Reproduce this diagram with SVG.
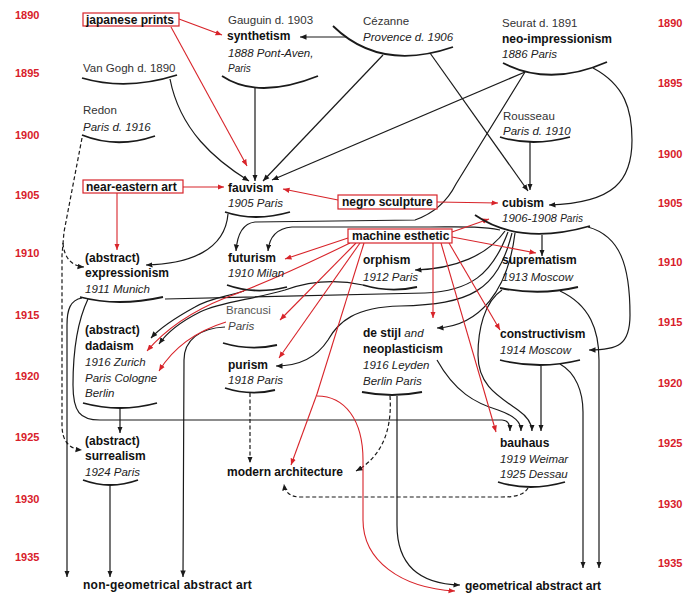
<svg xmlns="http://www.w3.org/2000/svg" width="688" height="596" viewBox="0 0 688 596">
<defs>
<marker id="ab" markerWidth="8" markerHeight="7" refX="6.5" refY="3" orient="auto" markerUnits="userSpaceOnUse"><path d="M0,0.3 L6.5,3 L0,5.7 z" fill="#1a1a1a"/></marker>
<marker id="ar" markerWidth="8" markerHeight="7" refX="6.5" refY="3" orient="auto" markerUnits="userSpaceOnUse"><path d="M0,0.3 L6.5,3 L0,5.7 z" fill="#d8242a"/></marker>
</defs>
<style>
text{font-family:"Liberation Sans",Arial,Helvetica,sans-serif}
.y{font-size:11px;font-weight:bold;fill:#d8202a}
.b{font-size:12px;font-weight:bold;fill:#111}
.i{font-size:11.5px;font-style:italic;fill:#222}
.r{font-size:11.5px;fill:#333}
.k{fill:none;stroke:#1a1a1a;stroke-width:1.2;marker-end:url(#ab)}
.a{fill:none;stroke:#1a1a1a;stroke-width:1.8}
.d{fill:none;stroke:#1a1a1a;stroke-width:1.2;stroke-dasharray:4 2.5;marker-end:url(#ab)}
.rl{fill:none;stroke:#d8242a;stroke-width:1.1;marker-end:url(#ar)}
.rn{fill:none;stroke:#d8242a;stroke-width:1.1}
.bx{fill:#fff;stroke:#d8242a;stroke-width:1.2}
</style>
<rect width="688" height="596" fill="#fff"/>
<g id="years">
<text class="y" x="15" y="19">1890</text><text class="y" x="15" y="77">1895</text><text class="y" x="15" y="139">1900</text><text class="y" x="15" y="199">1905</text><text class="y" x="15" y="257">1910</text><text class="y" x="15" y="319">1915</text><text class="y" x="15" y="380">1920</text><text class="y" x="15" y="441">1925</text><text class="y" x="15" y="503">1930</text><text class="y" x="15" y="561">1935</text>
<text class="y" x="658" y="27">1890</text><text class="y" x="658" y="87">1895</text><text class="y" x="658" y="158">1900</text><text class="y" x="658" y="207">1905</text><text class="y" x="658" y="266">1910</text><text class="y" x="658" y="326">1915</text><text class="y" x="658" y="387">1920</text><text class="y" x="658" y="447">1925</text><text class="y" x="658" y="508">1930</text><text class="y" x="658" y="567">1935</text>
</g>
<g id="connectors">
<path class="k" d="M347,37 L300,37"/>
<path class="k" d="M255,88 L255,181"/>
<path class="k" d="M170,79 C180,130 215,160 249,181"/>
<path class="k" d="M383,55 L263,181"/>
<path class="k" d="M525,72 L272,180"/>
<path class="k" d="M430,53 L528,191"/>
<path class="k" d="M593,68 C625,85 632,110 632,140 C632,180 615,203 549,205"/>
<path class="k" d="M530,142 L530,190"/>
<path class="k" d="M525,72 L456,184 Q443,210 415,220 L255,222 Q238,224 236,251"/>
<path class="k" d="M500,230 C480,226 460,227 430,227 L292,227 Q270,229 268,251"/>
<path class="k" d="M228,214 C225,250 190,264 146,265"/>
<path class="k" d="M505,231 C488,255 455,269 415,270"/>
<path class="a" style="stroke-width:1.2" d="M508,232 C492,275 470,291 425,293 L165,299"/>
<path class="k" d="M363,285 C335,279 310,281 285,290 C250,300 220,302 200,312 C180,322 166,334 159,344"/>
<path class="k" d="M244,291 C225,297 210,298 195,307 C175,318 160,328 151,338"/>
<path class="k" d="M512,233 C497,292 470,304 400,306 C355,307 338,322 328,340 C315,360 295,366 276,366"/>
<path class="k" d="M515,233 C508,290 480,326 437,328"/>
<path class="k" d="M542,235 L542,256"/>
<path class="k" d="M588,227 C620,236 630,265 630,315 C630,345 618,350 589,350"/>
<path class="k" d="M82,298 C70,300 67,310 67,325 L67,577"/>
<path class="k" d="M88,299 C78,320 73,350 73,385 C73,412 80,420 100,420 L502,420 C508,420 510,425 510,431"/>
<path class="k" d="M120,409 L120,433"/>
<path class="k" d="M110,486 L110,577"/>
<path class="k" d="M225,327 C200,328 184,340 184,360 L183,577"/>
<path class="k" d="M437,360 C455,392 475,403 498,410 C515,416 521,422 521,431"/>
<path class="k" d="M502,290 C484,302 478,330 478,355 C478,385 498,396 518,410 C528,417 532,423 532,431"/>
<path class="k" d="M541,366 L541,431"/>
<path class="k" d="M560,364 C576,373 583,392 583,412 L583,568"/>
<path class="k" d="M560,291 C590,305 599,330 599,360 L599,568"/>
<path class="k" d="M397,396 L397,525 C397,565 420,584 460,585"/>
<path class="d" d="M82,138 L64,232 L62,255 L62,425 C62,442 70,449 82,450"/>
<path class="d" d="M63,243 C64,258 72,266 84,267"/>
<path class="d" d="M250,393 L250,463"/>
<path class="d" d="M390,396 C392,425 385,455 356,471"/>
<path class="d" d="M528,488 C524,495 515,497 502,497 L300,497 C290,497 285,492 284,484"/>
<path class="rl" d="M179,19 L222,35"/>
<path class="rl" d="M171,27 L247,166"/>
<path class="rl" d="M183,187 L224,187"/>
<path class="rl" d="M117,193 L117,250"/>
<path class="rl" d="M338,200 L283,189"/>
<path class="rl" d="M437,202 L498,203"/>
<path class="rl" d="M452,232 L489,219"/>
<path class="rl" d="M348,238 L285,259"/>
<path class="rl" d="M350,243 C305,265 260,285 225,298 C190,312 165,330 147,351"/>
<path class="rl" d="M226,322 C200,330 175,345 159,371"/>
<path class="rl" d="M356,243 L280,320"/>
<path class="rl" d="M360,243 L279,358"/>
<path class="rn" d="M364,243 L317,394"/>
<path class="rl" d="M317,394 L291,465"/>
<path class="rl" d="M317,396 C345,396 363,420 363,460 L363,520 C363,560 400,588 455,591"/>
<path class="rl" d="M433,243 L433,318"/>
<path class="rl" d="M452,237 L536,253"/>
<path class="rl" d="M449,243 L500,330"/>
<path class="rl" d="M441,243 L496,432"/>
</g>
<g id="japanese-prints"><rect class="bx" x="83" y="13" width="96" height="13"/><text class="b" x="86" y="23.5">japanese prints</text></g>
<g id="near-eastern-art"><rect class="bx" x="83" y="180" width="100" height="13"/><text class="b" x="86" y="190.5">near-eastern art</text></g>
<g id="negro-sculpture"><rect class="bx" x="338" y="195" width="99" height="14"/><text class="b" x="342" y="205.5">negro sculpture</text></g>
<g id="machine-esthetic"><rect class="bx" x="348" y="229" width="104" height="14"/><text class="b" x="352" y="239.5">machine esthetic</text></g>
<g id="synthetism"><text class="r" x="228" y="24">Gauguin d. 1903</text><text class="b" x="227" y="40">synthetism</text><text class="i" x="228" y="57">1888 Pont-Aven,</text><text class="i" x="228" y="72" style="font-size:10px">Paris</text><path class="a" d="M222,76 Q258,100 318,76"/></g>
<g id="cezanne"><text class="r" x="363" y="25">Cézanne</text><text class="i" x="363" y="41">Provence d. 1906</text><path class="a" d="M333,26 Q380,72 453,47"/></g>
<g id="neo-impressionism"><text class="r" x="502" y="27">Seurat d. 1891</text><text class="b" x="502" y="43">neo-impressionism</text><text class="i" x="502" y="58">1886 Paris</text><path class="a" d="M503,63 Q550,87 607,62"/></g>
<g id="van-gogh"><text class="r" x="83" y="72">Van Gogh d. 1890</text><path class="a" d="M82,78 Q127,91 177,75"/></g>
<g id="redon"><text class="r" x="83" y="114">Redon</text><text class="i" x="83" y="131">Paris d. 1916</text><path class="a" d="M82,135 Q117,149 155,136"/></g>
<g id="rousseau"><text class="r" x="503" y="120">Rousseau</text><text class="i" x="503" y="135">Paris d. 1910</text><path class="a" d="M500,137 Q532,147 570,137"/></g>
<g id="fauvism"><text class="b" x="228" y="192">fauvism</text><text class="i" x="228" y="207">1905 Paris</text><path class="a" d="M225,212 Q255,222 290,212"/></g>
<g id="cubism"><text class="b" x="502" y="207">cubism</text><text class="i" x="502" y="222">1906-1908 <tspan style="font-size:10px">Paris</tspan></text><path class="a" d="M475,215 Q520,246 590,226"/></g>
<g id="expressionism"><text class="b" x="85" y="262">(abstract)</text><text class="b" x="85" y="277">expressionism</text><text class="i" x="85" y="293">1911 Munich</text><path class="a" d="M80,297 Q118,307 163,297"/></g>
<g id="futurism"><text class="b" x="228" y="262">futurism</text><text class="i" x="228" y="277">1910 Milan</text><path class="a" d="M227,285 Q255,295 287,287"/></g>
<g id="orphism"><text class="b" x="363" y="264">orphism</text><text class="i" x="363" y="281">1912 Paris</text><path class="a" d="M363,285 Q390,293 417,287"/></g>
<g id="suprematism"><text class="b" x="502" y="264">suprematism</text><text class="i" x="502" y="281">1913 Moscow</text><path class="a" d="M500,288 Q540,296 578,287"/></g>
<g id="dadaism"><text class="b" x="85" y="334">(abstract)</text><text class="b" x="85" y="350">dadaism</text><text class="i" x="85" y="366">1916 Zurich</text><text class="i" x="85" y="382">Paris Cologne</text><text class="i" x="85" y="397">Berlin</text><path class="a" d="M83,403 Q120,413 157,403"/></g>
<g id="brancusi"><text class="r" x="226" y="314" style="fill:#555">Brancusi</text><text class="i" x="228" y="330" style="fill:#444">Paris</text><path class="a" d="M223,343 Q250,351 277,345"/></g>
<g id="constructivism"><text class="b" x="500" y="338">constructivism</text><text class="i" x="500" y="354">1914 Moscow</text><path class="a" d="M500,360 Q540,370 580,360"/></g>
<g id="de-stijl"><text class="b" x="363" y="337">de stijl <tspan class="i" style="font-weight:normal">and</tspan></text><text class="b" x="363" y="353">neoplasticism</text><text class="i" x="363" y="369">1916 Leyden</text><text class="i" x="363" y="385">Berlin Paris</text><path class="a" d="M362,392 Q392,398 422,392"/></g>
<g id="purism"><text class="b" x="228" y="369">purism</text><text class="i" x="228" y="384">1918 Paris</text><path class="a" d="M225,388 Q250,396 275,390"/></g>
<g id="bauhaus"><text class="b" x="500" y="447">bauhaus</text><text class="i" x="500" y="463">1919 Weimar</text><text class="i" x="500" y="478">1925 Dessau</text><path class="a" d="M498,482 Q530,492 565,482"/></g>
<g id="surrealism"><text class="b" x="85" y="445">(abstract)</text><text class="b" x="85" y="460">surrealism</text><text class="i" x="85" y="476">1924 Paris</text><path class="a" d="M83,480 Q110,490 138,480"/></g>
<g id="modern-architecture"><text class="b" x="227" y="476">modern architecture</text></g>
<g id="non-geometrical-abstract-art"><text class="b" x="83" y="589" style="letter-spacing:0.25px">non-geometrical abstract art</text></g>
<g id="geometrical-abstract-art"><text class="b" x="465" y="590">geometrical abstract art</text></g>
</svg>
